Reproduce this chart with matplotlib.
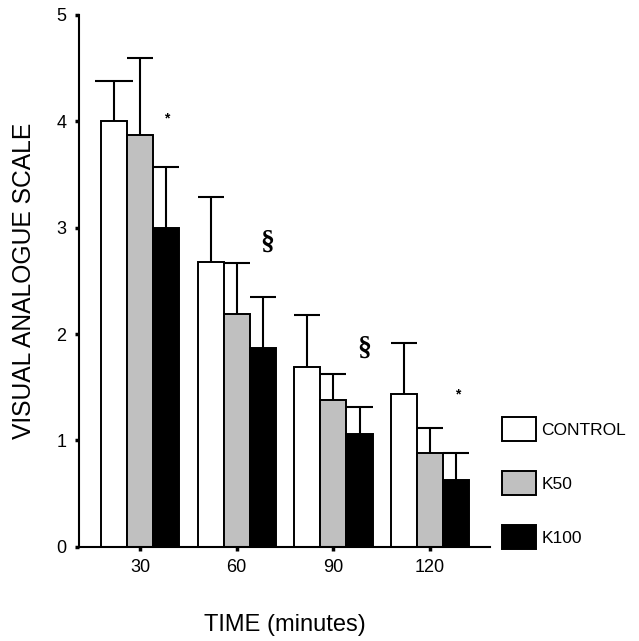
import matplotlib
matplotlib.use("Agg")
import matplotlib.pyplot as plt
import numpy as np
from matplotlib.patches import Patch

plt.rcParams['font.family'] = ['Liberation Sans', 'DejaVu Sans']

times = ["30", "60", "90", "120"]
series_names = ["CONTROL", "K50", "K100"]
control = [4.00, 2.68, 1.69, 1.44]
k50 = [3.87, 2.19, 1.38, 0.88]
k100 = [3.00, 1.87, 1.06, 0.63]
control_err = [0.38, 0.61, 0.49, 0.48]
k50_err = [0.73, 0.48, 0.24, 0.24]
k100_err = [0.575, 0.48, 0.25, 0.25]
colors = ["white", "#c0c0c0", "black"]

# significance marks
marks_group = [0, 1, 2, 3]
marks_y = [4.03, 2.86, 1.87, 1.43]
marks_sym = ["*", "§", "§", "*"]

fig = plt.figure(figsize=(6.39, 6.41), dpi=100)
ax = fig.add_axes([0.1236, 0.147, 0.6434, 0.8296])

x = np.arange(len(times))
w = 0.27
vals = [control, k50, k100]
errs = [control_err, k50_err, k100_err]
for i, (v, e, c) in enumerate(zip(vals, errs, colors)):
    pos = x + (i - 1) * w
    v = np.array(v)
    e = np.array(e)
    top = v + e
    ax.vlines(pos, v, top, colors='black', linewidth=1.5, zorder=1)
    half = np.full(len(pos), w / 2)
    if i == 0:
        half[0] = 0.196  # wider cap on first control bar, as in the original
    ax.hlines(top, pos - half, pos + half, colors='black', linewidth=1.5, zorder=1)
    ax.bar(pos, v, width=w, color=c, edgecolor='black', linewidth=1.4,
           label=series_names[i], zorder=2)

for g, yv, s in zip(marks_group, marks_y, marks_sym):
    if s == "§":
        ax.text(g + 0.32, yv, s, fontsize=20, fontweight='bold',
                family='Liberation Serif', ha='center', va='center')
    else:
        ax.text(g + 0.28, yv, s, fontsize=10, fontweight='bold',
                ha='center', va='center')

ax.set_xlim(-0.631, 3.62)
ax.set_ylim(0, 5)
ax.set_xticks(x)
ax.set_xticklabels(times)
ax.set_yticks(range(6))
for s in ['top', 'right']:
    ax.spines[s].set_visible(False)
for s in ['left', 'bottom']:
    ax.spines[s].set_linewidth(1.5)
ax.tick_params(axis='both', length=3, width=2.5, labelsize=13, pad=6)

ax.set_ylabel("VISUAL ANALOGUE SCALE", fontsize=17.7)
ax.yaxis.set_label_coords(-0.105, 0.5)
ax.set_xlabel("TIME (minutes)", fontsize=17)
ax.xaxis.set_label_coords(0.5, -0.1266)

handles = [Patch(facecolor=c, edgecolor='black', linewidth=1.4) for c in colors]
leg = fig.legend(handles, series_names, loc='upper left',
                 bbox_to_anchor=(0.775, 0.36), frameon=False, fontsize=12.5,
                 handlelength=1.95, handleheight=1.72, labelspacing=1.75,
                 handletextpad=0.3, borderaxespad=0)

fig.savefig("out.png", dpi=100)
